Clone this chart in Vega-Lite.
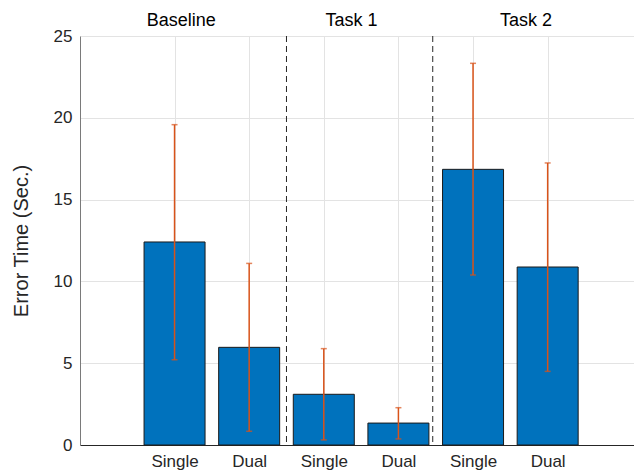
{
  "$schema": "https://vega.github.io/schema/vega-lite/v6.json",
  "width": 554,
  "height": 409,
  "autosize": {"type": "none"},
  "padding": {"left": 80, "top": 36, "right": 0, "bottom": 31},
  "background": "white",
  "config": {"view": {"stroke": null}, "font": "Liberation Sans"},
  "datasets": {
    "bars": [
      {"pos": 1, "cond": "Single", "task": "Baseline", "mean": 12.41, "lo": 5.21, "hi": 19.58},
      {"pos": 2, "cond": "Dual", "task": "Baseline", "mean": 5.97, "lo": 0.84, "hi": 11.1},
      {"pos": 3, "cond": "Single", "task": "Task 1", "mean": 3.1, "lo": 0.31, "hi": 5.89},
      {"pos": 4, "cond": "Dual", "task": "Task 1", "mean": 1.34, "lo": 0.37, "hi": 2.28},
      {"pos": 5, "cond": "Single", "task": "Task 2", "mean": 16.85, "lo": 10.39, "hi": 23.33},
      {"pos": 6, "cond": "Dual", "task": "Task 2", "mean": 10.88, "lo": 4.5, "hi": 17.24}
    ],
    "groups": [
      {"group": "Baseline", "gx": 1.09},
      {"group": "Task 1", "gx": 3.37},
      {"group": "Task 2", "gx": 5.71}
    ],
    "seps": [{"sx": 2.5}, {"sx": 4.46}]
  },
  "layer": [
    {
      "data": {"name": "bars"},
      "mark": {"type": "bar", "size": 61, "color": "#0072BD", "stroke": "#1a1a1a", "strokeWidth": 1},
      "encoding": {
        "x": {
          "field": "pos", "type": "quantitative",
          "scale": {"domain": [-0.2, 7.09], "nice": false, "zero": false},
          "axis": {
            "values": [1, 2, 3, 4, 5, 6],
            "labelExpr": "datum.value % 2 == 1 ? 'Single' : 'Dual'",
            "title": null,
            "grid": true,
            "gridColor": "#e3e3e3",
            "domainColor": "#262626",
            "ticks": false,
            "labelPadding": 8,
            "labelFontSize": 17,
            "labelColor": "#262626",
            "labelFlush": false,
            "labelOverlap": false
          }
        },
        "y": {
          "field": "mean", "type": "quantitative",
          "scale": {"domain": [0, 25], "nice": false},
          "axis": {
            "values": [0, 5, 10, 15, 20, 25],
            "title": "Error Time (Sec.)",
            "titleFontSize": 20,
            "titleFontWeight": "normal",
            "titleColor": "#262626",
            "titlePadding": 22,
            "grid": true,
            "gridColor": "#e3e3e3",
            "domainColor": "#7a7a7a",
            "tickColor": "#7a7a7a",
            "tickSize": 0,
            "labelPadding": 8,
            "labelFontSize": 17,
            "labelColor": "#262626"
          }
        }
      }
    },
    {
      "data": {"name": "bars"},
      "mark": {"type": "rule", "color": "#D95319", "strokeWidth": 1.5},
      "encoding": {
        "x": {"field": "pos", "type": "quantitative"},
        "y": {"field": "lo", "type": "quantitative"},
        "y2": {"field": "hi"}
      }
    },
    {
      "data": {"name": "bars"},
      "mark": {"type": "tick", "orient": "horizontal", "color": "#D95319", "size": 6, "thickness": 1.5},
      "encoding": {
        "x": {"field": "pos", "type": "quantitative"},
        "y": {"field": "lo", "type": "quantitative"}
      }
    },
    {
      "data": {"name": "bars"},
      "mark": {"type": "tick", "orient": "horizontal", "color": "#D95319", "size": 6, "thickness": 1.5},
      "encoding": {
        "x": {"field": "pos", "type": "quantitative"},
        "y": {"field": "hi", "type": "quantitative"}
      }
    },
    {
      "data": {"name": "seps"},
      "mark": {"type": "rule", "strokeDash": [6, 4], "color": "#262626", "strokeWidth": 1},
      "encoding": {"x": {"field": "sx", "type": "quantitative"}}
    },
    {
      "data": {"name": "groups"},
      "mark": {"type": "text", "fontSize": 18, "dy": -10, "baseline": "alphabetic", "color": "#000000"},
      "encoding": {
        "x": {"field": "gx", "type": "quantitative"},
        "y": {"datum": 25},
        "text": {"field": "group"}
      }
    }
  ]
}
